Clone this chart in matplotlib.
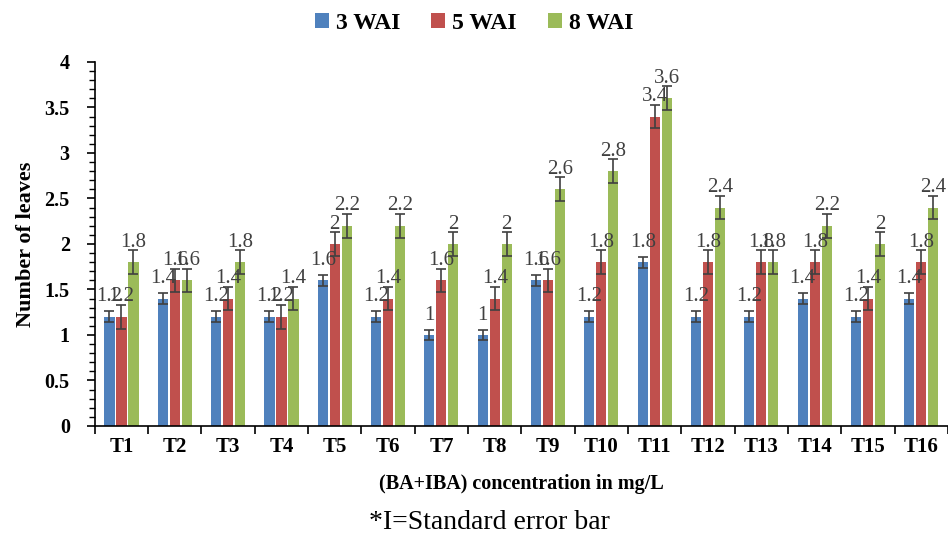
import numpy as np
import matplotlib
matplotlib.use('Agg')
import matplotlib.pyplot as plt
from matplotlib.ticker import MultipleLocator

plt.rcParams['font.family'] = ['Liberation Serif', 'DejaVu Serif']

treatments = ['T1', 'T2', 'T3', 'T4', 'T5', 'T6', 'T7', 'T8',
              'T9', 'T10', 'T11', 'T12', 'T13', 'T14', 'T15', 'T16']
wai3 = [1.2, 1.4, 1.2, 1.2, 1.6, 1.2, 1.0, 1.0, 1.6, 1.2, 1.8, 1.2, 1.2, 1.4, 1.2, 1.4]
wai5 = [1.2, 1.6, 1.4, 1.2, 2.0, 1.4, 1.6, 1.4, 1.6, 1.8, 3.4, 1.8, 1.8, 1.8, 1.4, 1.8]
wai8 = [1.8, 1.6, 1.8, 1.4, 2.2, 2.2, 2.0, 2.0, 2.6, 2.8, 3.6, 2.4, 1.8, 2.2, 2.0, 2.4]
err3 = [0.06] * 16
err5 = [0.13] * 16
err8 = [0.13] * 16
series_names = ['3 WAI', '5 WAI', '8 WAI']
colors = ['#4F81BD', '#C0504D', '#9BBB59']

fig = plt.figure(figsize=(9.48, 5.43), dpi=100)
ax = fig.add_axes([0.100, 0.2155, 0.900, 0.6705])

x = np.arange(len(treatments))
width = 0.19
step = 0.225
for i, (vals, errs, name, col) in enumerate(zip([wai3, wai5, wai8], [err3, err5, err8],
                                                 series_names, colors)):
    pos = x + (i - 1) * step
    ax.bar(pos, vals, width, color=col, label=name, zorder=2)
    ax.errorbar(pos, vals, yerr=errs, fmt='none', ecolor='#404040',
                elinewidth=1.2, capsize=3.3, capthick=1.2, zorder=3)
    for px, v in zip(pos, vals):
        ax.annotate(f'{v:g}', (px, v), xytext=(0, 11), textcoords='offset points',
                    ha='center', va='baseline', fontsize=15, color='#404040', zorder=4)

ax.set_xlim(-0.5, len(treatments) - 0.5)
ax.set_ylim(0, 4)
ax.yaxis.set_minor_locator(MultipleLocator(0.1))
yt = np.arange(0, 4.01, 0.5)
ax.set_yticks(yt)
ax.set_yticklabels([f'{t:g}' for t in yt], fontweight='bold', fontsize=14.5)

# group labels centred, tick marks on group boundaries
ax.set_xticks(x)
ax.set_xticklabels(treatments, fontweight='bold', fontsize=15)
ax.tick_params(axis='x', length=0, pad=8)
ax.set_xticks(np.arange(-0.5, len(treatments) + 0.5, 1), minor=True)
ax.tick_params(axis='x', which='minor', length=6, direction='out', width=1.2)
ax.tick_params(axis='y', which='major', length=6, width=1.2, pad=12)
ax.tick_params(axis='y', which='minor', length=4, width=1.0)

for s in ['top', 'right']:
    ax.spines[s].set_visible(False)
ax.spines['left'].set_linewidth(1.2)
ax.spines['bottom'].set_linewidth(1.2)

ax.set_ylabel('Number of leaves', fontweight='bold', fontsize=16, labelpad=6)
ax.set_xlabel('(BA+IBA) concentration in mg/L', fontweight='bold', fontsize=14.5, labelpad=12)

fig.legend(loc='upper center', bbox_to_anchor=(0.5, 1.015), ncol=3, frameon=False,
           prop={'weight': 'bold', 'size': 17}, handlelength=0.6, handleheight=0.6,
           handletextpad=0.3, columnspacing=1.3)

fig.text(0.516, 0.037, '*I=Standard error bar', ha='center', va='center', fontsize=20)

fig.savefig('out.png', dpi=100)
